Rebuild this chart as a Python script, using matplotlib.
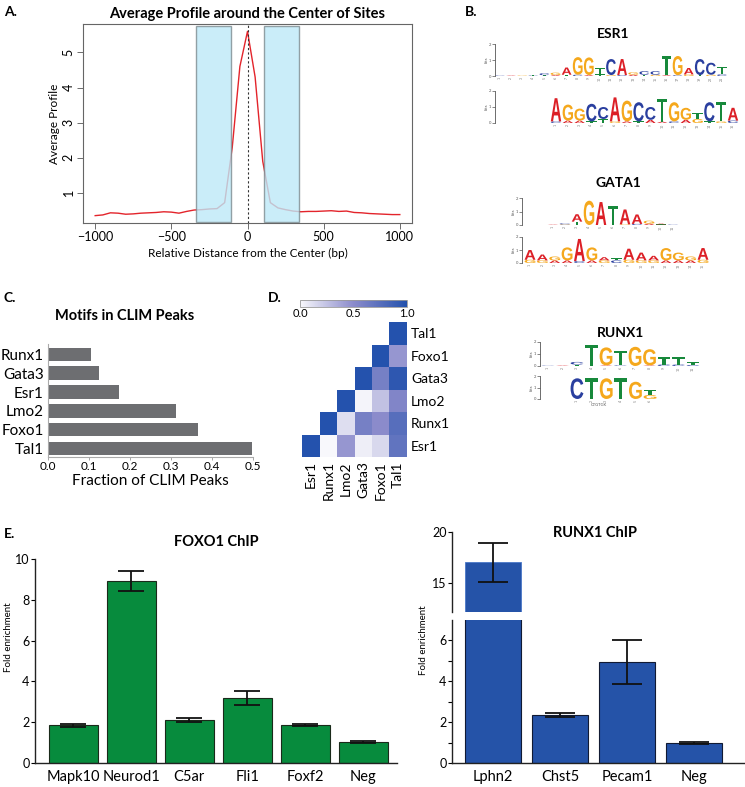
import numpy as np
import matplotlib
matplotlib.use('Agg')
import matplotlib.pyplot as plt
import matplotlib.transforms as mtrans
from matplotlib.colors import LinearSegmentedColormap
from matplotlib.textpath import TextPath
from matplotlib.patches import PathPatch
from matplotlib.font_manager import FontProperties

plt.rcParams['font.family'] = ['Lato', 'DejaVu Sans']
plt.rcParams['axes.unicode_minus'] = True

# ---------------- data ----------------
# A. average profile around site centers
dist = [-1000, -950, -900, -850, -800, -750, -700, -650, -600, -550, -500,
        -450, -400, -350, -300, -250, -200, -150, -100, -50, 0,
        50, 100, 150, 200, 250, 300, 350, 400, 450, 500,
        550, 600, 650, 700, 750, 800, 850, 900, 950, 1000]
profile = [0.35, 0.37, 0.43, 0.42, 0.39, 0.40, 0.42, 0.43, 0.44, 0.46, 0.45,
           0.42, 0.47, 0.51, 0.52, 0.54, 0.55, 0.72, 2.3, 4.6, 5.6,
           4.3, 1.9, 0.72, 0.57, 0.52, 0.48, 0.46, 0.47, 0.47, 0.48,
           0.49, 0.47, 0.48, 0.44, 0.43, 0.41, 0.40, 0.39, 0.38, 0.38]
shaded = [(-340, -110), (110, 340)]

# B. motif logos (dominant letter + minor letter per position, heights in bits)
esr1_top = "CAGTCGAGGTCAGCCTGACCT"
esr1_top_h = [0.03, 0.03, 0.03, 0.06, 0.12, 0.15, 0.45, 1.1, 1.1, 0.4, 1.0, 1.0,
              0.15, 0.22, 0.22, 1.2, 1.2, 0.4, 1.0, 0.75, 0.45]
esr1_top_minor = "GTACTATCATGCATGACGTGC"
esr1_top_minor_h = [0.0, 0.0, 0.0, 0.03, 0.05, 0.06, 0.08, 0.08, 0.06, 0.1, 0.06, 0.06,
                    0.08, 0.08, 0.08, 0.05, 0.05, 0.1, 0.06, 0.08, 0.1]
esr1_bot = "AGGCCAGCCTGGTCTA"
esr1_bot_h = [1.45, 1.0, 0.75, 1.1, 0.75, 1.5, 1.3, 1.2, 0.8, 1.45, 1.2, 0.75, 0.4, 1.2, 1.2, 0.8]
esr1_bot_minor = "CAATTGATAACAGTGC"
esr1_bot_minor_h = [0.1, 0.15, 0.15, 0.1, 0.25, 0.1, 0.1, 0.1, 0.2, 0.08, 0.1, 0.2, 0.25, 0.1, 0.1, 0.15]
gata1_top = "ACAGATAAGAC"
gata1_top_h = [0.03, 0.08, 0.55, 1.8, 1.7, 1.4, 1.1, 0.7, 0.22, 0.06, 0.03]
gata1_top_minor = "TGTCGAGCATG"
gata1_top_minor_h = [0.0, 0.04, 0.25, 0.0, 0.0, 0.0, 0.05, 0.08, 0.1, 0.04, 0.0]
gata1_bot = "AAGGAGATAAAGGGA"
gata1_bot_h = [0.75, 0.45, 0.3, 1.0, 1.7, 1.0, 0.25, 0.15, 0.85, 0.6, 0.35, 0.95, 0.6, 0.3, 0.9]
gata1_bot_minor = "GGAACAGCGGGAAAG"
gata1_bot_minor_h = [0.25, 0.2, 0.2, 0.2, 0.15, 0.2, 0.2, 0.2, 0.25, 0.2, 0.2, 0.2, 0.2, 0.2, 0.25]
runx1_top = "CACTGTGGTTT"
runx1_top_h = [0.03, 0.04, 0.22, 1.75, 1.5, 1.2, 1.6, 1.35, 0.6, 0.6, 0.25]
runx1_top_minor = "GTTCACAACCC"
runx1_top_minor_h = [0.0, 0.0, 0.12, 0.0, 0.05, 0.05, 0.0, 0.05, 0.12, 0.12, 0.08]
runx1_bot = "CTGTGT"
runx1_bot_h = [1.8, 1.8, 1.8, 1.8, 1.5, 0.45]
runx1_bot_minor = "AAAAAG"
runx1_bot_minor_h = [0.0, 0.0, 0.0, 0.0, 0.0, 0.35]

# C. motifs in CLIM peaks
motif_names = ['Tal1', 'Foxo1', 'Lmo2', 'Esr1', 'Gata3', 'Runx1']
motif_frac = [0.498, 0.366, 0.311, 0.173, 0.125, 0.104]

# D. motif co-occurrence
heat_rows = ['Tal1', 'Foxo1', 'Gata3', 'Lmo2', 'Runx1', 'Esr1']
heat_cols = ['Esr1', 'Runx1', 'Lmo2', 'Gata3', 'Foxo1', 'Tal1']
nan = np.nan
heat_vals = [[nan, nan, nan, nan, nan, 1.0],
             [nan, nan, nan, nan, 1.0, 0.45],
             [nan, nan, nan, 1.0, 0.6, 0.95],
             [nan, nan, 1.0, 0.02, 0.25, 0.55],
             [nan, 1.0, 0.12, 0.6, 0.5, 0.75],
             [1.0, 0.0, 0.45, 0.05, 0.15, 0.7]]

# E. ChIP-qPCR
foxo1_genes = ['Mapk10', 'Neurod1', 'C5ar', 'Fli1', 'Foxf2', 'Neg']
foxo1_fold = [1.84, 8.92, 2.12, 3.18, 1.88, 1.01]
foxo1_err = [0.06, 0.49, 0.1, 0.33, 0.05, 0.05]
runx1_genes = ['Lphn2', 'Chst5', 'Pecam1', 'Neg']
runx1_fold = [17.0, 2.36, 4.94, 0.99]
runx1_err = [1.9, 0.1, 1.08, 0.05]

# ---------------- helpers ----------------
W, H = 745, 787
fig = plt.figure(figsize=(W / 100, H / 100), dpi=100)


def px_axes(x0, y0, x1, y1):
    return fig.add_axes([x0 / W, 1 - y1 / H, (x1 - x0) / W, (y1 - y0) / H])


def ftext(x, y, s, **kw):
    fig.text(x / W, 1 - y / H, s, **kw)


logo_colors = {'A': '#dc1f26', 'C': '#2a3f9f', 'G': '#f5a81c', 'T': '#17893b'}
logo_font = FontProperties(family='Liberation Sans', weight='bold')


def draw_letter(ax, ch, x, y, w, h):
    tp = TextPath((0, 0), ch, size=1, prop=logo_font)
    bb = tp.get_extents()
    tr = (mtrans.Affine2D().translate(-bb.x0, -bb.y0)
          .scale(w / bb.width, h / bb.height).translate(x - w / 2, y))
    ax.add_patch(PathPatch(tr.transform_path(tp), fc=logo_colors[ch], ec='none'))


def draw_logo(bx, first_x, last_x, zero_y, two_y, letters, heights, minor, minor_h, xlab=None):
    n = len(letters)
    sp = (last_x - first_x) / (n - 1)
    ax = px_axes(bx, two_y, last_x + sp / 2, zero_y)
    ax.set_xlim(-(first_x - bx) / sp, n - 0.5)
    ax.set_ylim(0, 2)
    for i in range(n):
        y = 0
        for ch, h in ((minor[i], minor_h[i]), (letters[i], heights[i])):
            if h > 0:
                draw_letter(ax, ch, i, y, 0.88, h)
                y += h
    for s in ['top', 'right', 'bottom']:
        ax.spines[s].set_visible(False)
    ax.spines['left'].set_color('#555555')
    ax.spines['left'].set_linewidth(0.6)
    ax.set_yticks([0, 1, 2])
    ax.set_yticklabels(['0', '1', '2'], fontsize=3)
    ax.tick_params(axis='y', length=2, width=0.5, pad=0.5, colors='#555555')
    ax.set_xticks(range(n))
    ax.set_xticklabels([str(i + 1) for i in range(n)], fontsize=2.5, rotation=90, color='#777777')
    ax.tick_params(axis='x', length=0, pad=0.5)
    ax.set_ylabel('bits', fontsize=3, labelpad=0.5, color='#555555')
    if xlab:
        ax.set_xlabel(xlab, fontsize=3, labelpad=1, color='#555555')
    ax.patch.set_alpha(0)
    return ax


# ---------------- A ----------------
ax = px_axes(83, 24, 412, 223)
ax.plot(dist, profile, color='#e3242b', lw=1.0, zorder=2)
for lo, hi in shaded:
    ax.axvspan(lo, hi, ymin=0.005, ymax=0.99, facecolor='#bde9f8', edgecolor='#7d8b90',
               lw=1.0, alpha=0.8, zorder=3)
ax.axvline(0, color='#333333', ls=(0, (2, 2)), lw=0.8, zorder=4)
ax.set_xlim(-1080, 1080)
ax.set_ylim(0.14, 5.81)
ax.set_xticks([-1000, -500, 0, 500, 1000])
ax.set_yticks([1, 2, 3, 4, 5])
ax.tick_params(labelsize=9, length=4, width=0.6, color='#555555', pad=2)
for lab in ax.get_yticklabels():
    lab.set_rotation(90)
    lab.set_va('center')
for s in ax.spines.values():
    s.set_color('#666666')
    s.set_linewidth(0.8)
ax.set_xlabel('Relative Distance from the Center (bp)', fontsize=8.5, labelpad=3)
ax.set_ylabel('Average Profile', fontsize=8.5, labelpad=2)
ax.set_title('Average Profile around the Center of Sites', fontsize=10.5,
             fontweight='bold', pad=4)
ftext(4, 12, 'A.', fontsize=10, fontweight='bold', va='center')

# ---------------- B ----------------
ftext(465, 12, 'B.', fontsize=10, fontweight='bold', va='center')
ftext(613, 34, 'ESR1', fontsize=10, fontweight='bold', ha='center', va='center')
draw_logo(495, 500, 722, 76, 44, esr1_top, esr1_top_h, esr1_top_minor, esr1_top_minor_h)
draw_logo(495, 556, 733, 123, 91, esr1_bot, esr1_bot_h, esr1_bot_minor, esr1_bot_minor_h)
ftext(618, 183, 'GATA1', fontsize=10, fontweight='bold', ha='center', va='center')
draw_logo(522, 553, 673, 225, 198, gata1_top, gata1_top_h, gata1_top_minor, gata1_top_minor_h)
draw_logo(522, 530, 703, 263, 237, gata1_bot, gata1_bot_h, gata1_bot_minor, gata1_bot_minor_h)
ftext(620, 333, 'RUNX1', fontsize=10, fontweight='bold', ha='center', va='center')
draw_logo(540, 548, 693, 366, 342, runx1_top, runx1_top_h, runx1_top_minor, runx1_top_minor_h)
draw_logo(540, 577, 650, 399, 376, runx1_bot, runx1_bot_h, runx1_bot_minor, runx1_bot_minor_h,
          xlab='CTGTGK')

# ---------------- C ----------------
ax = px_axes(48, 344, 253, 457)
ypos = np.arange(len(motif_names))
ax.barh(ypos, motif_frac, height=0.72, color='#6d6e71')
ax.set_ylim(-0.45, 5.55)
ax.set_xlim(0, 0.5)
ax.set_yticks(ypos)
ax.set_yticklabels(motif_names, fontsize=11)
ax.set_xticks([0.0, 0.1, 0.2, 0.3, 0.4, 0.5])
ax.set_xticklabels(['0.0', '0.1', '0.2', '0.3', '0.4', '0.5'], fontsize=8.5)
ax.tick_params(axis='y', length=0, pad=3)
ax.tick_params(axis='x', length=2, width=0.6, color='#999999', pad=1)
for s in ['top', 'right']:
    ax.spines[s].set_visible(False)
for s in ['left', 'bottom']:
    ax.spines[s].set_color('#aaaaaa')
    ax.spines[s].set_linewidth(0.8)
ax.set_xlabel('Fraction of CLIM Peaks', fontsize=11, labelpad=1)
ftext(125, 316, 'Motifs in CLIM Peaks', fontsize=10.5, fontweight='bold', ha='center', va='center')
ftext(4, 298, 'C.', fontsize=10, fontweight='bold', va='center')

# ---------------- D ----------------
cmap = LinearSegmentedColormap.from_list('clim', ['#f8f8fc', '#8b8bcb', '#2452ad'])
ax = px_axes(302, 322, 407, 457)
vals = np.ma.masked_invalid(np.array(heat_vals))
mesh = ax.pcolormesh(np.arange(7) - 0.5, np.arange(7) - 0.5, vals, cmap=cmap, vmin=0, vmax=1)
ax.set_xlim(-0.5, 5.5)
ax.set_ylim(5.5, -0.5)
ax.set_xticks(range(6))
ax.set_xticklabels(heat_cols, rotation=90, fontsize=10)
ax.yaxis.tick_right()
ax.set_yticks(range(6))
ax.set_yticklabels(heat_rows, fontsize=10)
ax.tick_params(length=0, pad=3)
for s in ax.spines.values():
    s.set_visible(False)
cax = px_axes(300, 300, 407, 307)
cb = fig.colorbar(mesh, cax=cax, orientation='horizontal', ticks=[0, 0.5, 1.0])
cb.ax.set_xticklabels(['0.0', '0.5', '1.0'], fontsize=8)
cb.ax.tick_params(length=0, pad=1)
cb.outline.set_edgecolor('#999999')
cb.outline.set_linewidth(0.6)
ftext(268, 298, 'D.', fontsize=10, fontweight='bold', va='center')

# ---------------- E left ----------------
ax = px_axes(35, 559, 397, 763)
xp = np.arange(len(foxo1_genes))
ax.bar(xp, foxo1_fold, width=0.84, color='#078b3d', edgecolor='#1a2a1a', lw=0.8)
ax.errorbar(xp, foxo1_fold, yerr=foxo1_err, fmt='none', ecolor='#111111',
            elinewidth=1.3, capsize=9.5, capthick=1.3)
ax.set_xlim(-0.66, 5.58)
ax.set_ylim(0, 10)
ax.set_yticks([0, 2, 4, 6, 8, 10])
ax.set_xticks(xp)
ax.set_xticklabels(foxo1_genes, fontsize=10.5)
ax.tick_params(axis='x', length=0, pad=5)
ax.tick_params(axis='y', labelsize=9, length=3, width=0.8, pad=1)
for s in ['top', 'right']:
    ax.spines[s].set_visible(False)
for s in ['left', 'bottom']:
    ax.spines[s].set_color('#222222')
    ax.spines[s].set_linewidth(1.0)
ftext(9, 637, 'Fold enrichment', fontsize=7, rotation=90, ha='center', va='center')
ax.set_title('FOXO1 ChIP', fontsize=10.5, fontweight='bold', pad=9)
ftext(4, 534, 'E.', fontsize=10, fontweight='bold', va='center')

# ---------------- E right (broken axis) ----------------
xr = np.arange(len(runx1_genes))
axu = px_axes(452, 532, 745, 612)
axl = px_axes(452, 620, 745, 763)
axu.bar(xr[:1], runx1_fold[:1], width=0.84, color='#2553a8', edgecolor='#4a78c8', lw=0.6)
axu.errorbar(xr[:1], runx1_fold[:1], yerr=runx1_err[:1], fmt='none', ecolor='#111111',
             elinewidth=1.3, capsize=11, capthick=1.3)
axl.bar(xr, runx1_fold, width=0.84, color='#2553a8', edgecolor='#111a33', lw=0.8)
axl.errorbar(xr[1:], runx1_fold[1:], yerr=runx1_err[1:], fmt='none', ecolor='#111111',
             elinewidth=1.3, capsize=11, capthick=1.3)
for a in (axu, axl):
    a.set_xlim(-0.61, 3.76)
    for s in ['top', 'right']:
        a.spines[s].set_visible(False)
    a.spines['left'].set_color('#222222')
    a.spines['left'].set_linewidth(1.0)
    a.tick_params(axis='y', labelsize=9, length=3, width=0.8, pad=1)
    a.patch.set_alpha(0)
axu.set_ylim(12.1, 20)
axu.set_yticks([15, 20])
axu.spines['bottom'].set_visible(False)
axu.set_xticks([])
axl.set_ylim(0, 7)
axl.set_yticks([0, 2, 4, 6])
axl.set_yticks([1, 3, 5], minor=True)
axl.tick_params(axis='y', which='minor', length=3, width=0.8)
axl.spines['bottom'].set_color('#222222')
axl.spines['bottom'].set_linewidth(1.0)
axl.set_xticks(xr)
axl.set_xticklabels(runx1_genes, fontsize=10.5)
axl.tick_params(axis='x', length=0, pad=5)
ftext(595, 533, 'RUNX1 ChIP', fontsize=10.5, fontweight='bold', ha='center', va='center')
ftext(423, 640, 'Fold enrichment', fontsize=7, rotation=90, ha='center', va='center')

fig.savefig('out.png', dpi=100)
